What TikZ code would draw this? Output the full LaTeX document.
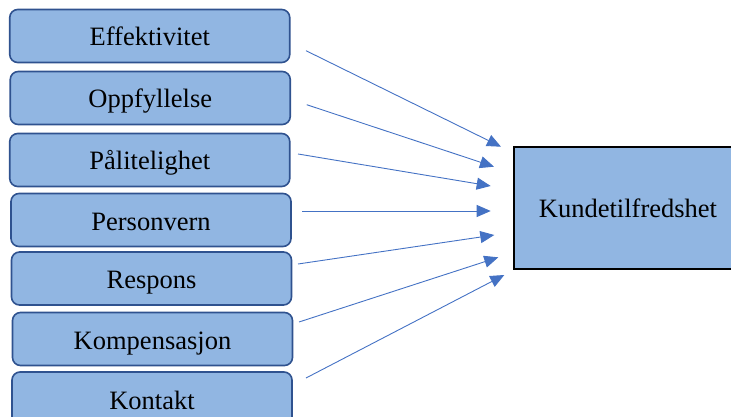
\documentclass[tikz,border=0pt]{standalone}
\usepackage{fontspec}
\setmainfont{Liberation Serif}
\usetikzlibrary{arrows.meta}
\definecolor{boxfill}{RGB}{145,182,226}
\definecolor{boxdraw}{RGB}{47,82,143}
\definecolor{arrowc}{RGB}{68,114,196}
\begin{document}
\begin{tikzpicture}[x=1pt,y=-1pt,
  factor/.style={draw=boxdraw, line width=1.6pt, fill=boxfill, rounded corners=8pt,
    minimum width=280pt, minimum height=53pt, inner sep=0pt,
    text height=24pt, text depth=4pt,
    font=\fontsize{26.5}{30}\selectfont},
  target/.style={draw=black, line width=2pt, fill=boxfill,
    minimum width=228pt, minimum height=121pt, inner sep=0pt,
    text height=23pt, text depth=5pt,
    font=\fontsize{26.5}{30}\selectfont},
  conn/.style={draw=arrowc, line width=0.9pt, -{Triangle[length=14pt,width=12pt]}}]
\useasboundingbox (0,0) rectangle (731,417);
\node[factor] (b1) at (149.75,36) {Effektivitet};
\node[factor] (b2) at (150.25,98) {Oppfyllelse};
\node[factor] (b3) at (149.75,160) {Pålitelighet};
\node[factor] (b4) at (151,220) {Personvern};
\node[factor] (b5) at (151.5,278.5) {Respons};
\node[factor] (b6) at (152.5,339) {Kompensasjon};
\node[factor, minimum height=54pt] (b7) at (152,399) {Kontakt};
\node[target] (k) at (628,208) {Kundetilfredshet};
\coordinate (s1) at (306,50.7);  \coordinate (t1) at (501,146.7);
\coordinate (s2) at (306.7,104.7); \coordinate (t2) at (494,166.7);
\coordinate (s3) at (298,154);   \coordinate (t3) at (490.7,186);
\coordinate (s4) at (302,211);   \coordinate (t4) at (490.7,211);
\coordinate (s5) at (298,264);   \coordinate (t5) at (494.3,235);
\coordinate (s6) at (299,322);   \coordinate (t6) at (498.3,257.3);
\coordinate (s7) at (306,378);   \coordinate (t7) at (504.3,275);
\foreach \i in {1,...,7} {\draw[conn] (s\i) -- (t\i);}
\end{tikzpicture}
\end{document}
